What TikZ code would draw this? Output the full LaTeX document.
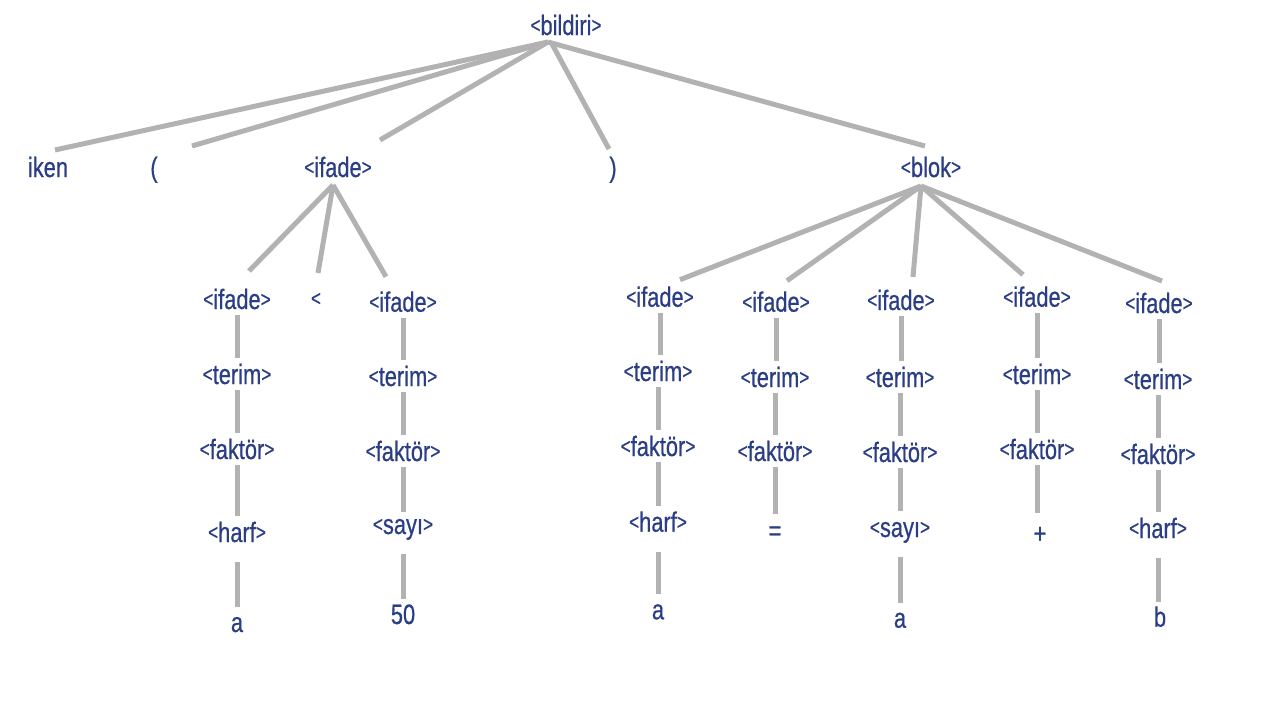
\documentclass[tikz,border=0pt]{standalone}
\usepackage{fontspec}
\newfontfamily\treefont{Liberation Sans}[FakeStretch=0.78,FakeBold=0.6]
\usetikzlibrary{calc}
\definecolor{symcol}{RGB}{43,62,133}
\definecolor{edgecol}{RGB}{178,178,178}
% small raised angle brackets around nonterminal names
\newcommand\abr[1]{\raisebox{2.2pt}{\fontsize{22}{24}\selectfont#1}}
\newcommand\nterm[1]{\abr{<}#1\abr{>}}
\begin{document}
\begin{tikzpicture}[x=1pt,y=-1pt,
  sym/.style={inner sep=0pt,anchor=base,text height=20pt,text depth=0pt,
    text=symcol,font=\treefont\fontsize{28}{32}\selectfont},
  edge/.style={draw=edgecol,line width=5pt},
  down/.style={edge,shorten <=6pt,shorten >=6pt},
  tail/.style={edge,shorten <=20pt,shorten >=5pt}]
\useasboundingbox (0,0) rectangle (1280,720);

% root and first level
\node[sym] (bil) at (566,35) {\nterm{bildiri}};
\node[sym] (iken) at (48,177) {iken};
\node[sym] (lp) at (154,177) {(};
\node[sym] (ifA) at (338,177) {\nterm{ifade}};
\node[sym] (rp) at (613,177) {)};
\node[sym] (blok) at (931,177) {\nterm{blok}};

\coordinate (J0) at ($(bil.base)+(-18,7)$);
\draw[edge] (J0) -- ($(iken.base)+(7,-27)$);
\draw[edge] (J0) -- ($(lp.base)+(38,-31)$);
\draw[edge] (J0) -- ($(ifA.base)+(42,-37)$);
\draw[edge] ($(J0)+(4,2)$) -- ($(rp.base)+(-4,-28)$);
\draw[edge] (J0) -- ($(blok.base)+(-6,-31)$);

% condition: <ifade> < <ifade>
\node[sym] (ifL) at (237,309) {\nterm{ifade}};
\node[sym] (lt) at (316,308) {\abr{<}};
\node[sym] (ifR) at (403,311.7) {\nterm{ifade}};
\coordinate (JA) at ($(ifA.base)+(-5,8)$);
\draw[edge] (JA) -- ($(ifL.base)+(12,-38)$);
\draw[edge] (JA) -- ($(lt.base)+(2,-35)$);
\draw[edge] (JA) -- ($(ifR.base)+(-17,-35)$);

\node[sym] (teL) at (237,384) {\nterm{terim}};
\node[sym] (faL) at (237,459) {\nterm{faktör}};
\node[sym] (haL) at (237,542) {\nterm{harf}};
\node[sym] (aL) at (237,632) {a};
\draw[down] (ifL.south) -- (ifL.south |- teL.north);
\draw[down] (teL.south) -- (teL.south |- faL.north);
\draw[down] (faL.south) -- (faL.south |- haL.north);
\draw[tail] (haL.south) -- (haL.south |- aL.north);

\node[sym] (teR) at (403,386) {\nterm{terim}};
\node[sym] (faR) at (403,461) {\nterm{faktör}};
\node[sym] (saR) at (403,534) {\nterm{sayı}};
\node[sym] (nR) at (403,624) {50};
\draw[down] (ifR.south) -- (ifR.south |- teR.north);
\draw[down] (teR.south) -- (teR.south |- faR.north);
\draw[down,shorten >=2pt] (faR.south) -- (faR.south |- saR.north);
\draw[tail] (saR.south) -- (saR.south |- nR.north);

% block: a = a + b
\node[sym] (b1) at (660,306.7) {\nterm{ifade}};
\node[sym] (b2) at (776,311.7) {\nterm{ifade}};
\node[sym] (b3) at (901,310) {\nterm{ifade}};
\node[sym] (b4) at (1037,306.7) {\nterm{ifade}};
\node[sym] (b5) at (1159,313) {\nterm{ifade}};
\coordinate (JB) at ($(blok.base)+(-10,9)$);
\draw[edge] (JB) -- ($(b1.base)+(20,-27)$);
\draw[edge] (JB) -- ($(b2.base)+(11,-31)$);
\draw[edge] (JB) -- ($(b3.base)+(12,-33)$);
\draw[edge] (JB) -- ($(b4.base)+(-14,-32)$);
\draw[edge] (JB) -- ($(b5.base)+(3,-32)$);

\node[sym] (t1) at (658,381) {\nterm{terim}};
\node[sym] (f1) at (658,456) {\nterm{faktör}};
\node[sym] (h1) at (658,531.7) {\nterm{harf}};
\node[sym] (a1) at (658,619.3) {a};
\draw[down] (b1.south) -- (b1.south |- t1.north);
\draw[down] (t1.south) -- (t1.south |- f1.north);
\draw[down] (f1.south) -- (f1.south |- h1.north);
\draw[tail] (h1.south) -- (h1.south |- a1.north);

\node[sym] (t2) at (775,387) {\nterm{terim}};
\node[sym] (f2) at (775,461) {\nterm{faktör}};
\node[sym] (eq) at (775,540) {=};
\draw[down] (b2.south) -- (b2.south |- t2.north);
\draw[down] (t2.south) -- (t2.south |- f2.north);
\draw[down] (f2.south) -- (f2.south |- eq.north);

\node[sym] (t3) at (900,387) {\nterm{terim}};
\node[sym] (f3) at (900,462) {\nterm{faktör}};
\node[sym] (s3) at (900,537) {\nterm{sayı}};
\node[sym] (a3) at (900,627.7) {a};
\draw[down] (b3.south) -- (b3.south |- t3.north);
\draw[down] (t3.south) -- (t3.south |- f3.north);
\draw[down] (f3.south) -- (f3.south |- s3.north);
\draw[tail] (s3.south) -- (s3.south |- a3.north);

\node[sym] (t4) at (1037,384) {\nterm{terim}};
\node[sym] (f4) at (1037,459) {\nterm{faktör}};
\node[sym] (pl) at (1040,543) {+};
\draw[down] (b4.south) -- (b4.south |- t4.north);
\draw[down] (t4.south) -- (t4.south |- f4.north);
\draw[down,shorten >=10pt] (f4.south) -- (f4.south |- pl.north);

\node[sym] (t5) at (1158,389) {\nterm{terim}};
\node[sym] (f5) at (1158,464) {\nterm{faktör}};
\node[sym] (h5) at (1158,538) {\nterm{harf}};
\node[sym] (bb) at (1160,626.7) {b};
\draw[down] (b5.south) -- (b5.south |- t5.north);
\draw[down] (t5.south) -- (t5.south |- f5.north);
\draw[down] (f5.south) -- (f5.south |- h5.north);
\draw[tail] (h5.south) -- (h5.south |- bb.north);
\end{tikzpicture}
\end{document}
